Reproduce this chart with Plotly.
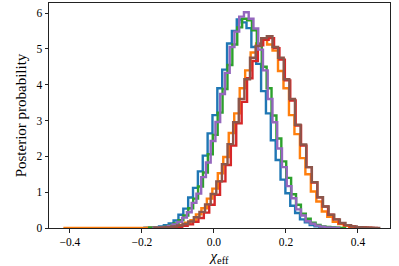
import numpy as np
import plotly.graph_objects as go

# Series: first bin edge, bin width, densities
blue_start, blue_width = -0.193, 0.0135
blue_vals = [0.006, 0.012, 0.02, 0.04, 0.075, 0.13, 0.21, 0.37, 0.54, 0.85, 1.12, 1.58, 2.02, 2.64, 3.15, 3.9, 4.42, 5.15, 5.5, 5.82,
             5.74, 5.58, 5.05, 4.58, 3.82, 3.2, 2.45, 1.9, 1.35, 0.97, 0.62, 0.42, 0.24, 0.16, 0.085, 0.05, 0.025, 0.013, 0.006, 0.003]

orange_start, orange_width = -0.4148, 0.0152
orange_vals = [0.001, 0.001, 0.001, 0.001, 0.001, 0.002, 0.001, 0.002, 0.002, 0.002, 0.003, 0.003, 0.003, 0.004, 0.004, 0.005, 0.006,
               0.008, 0.016, 0.027, 0.052, 0.083, 0.145, 0.22, 0.38, 0.55, 0.82, 1.1, 1.53, 1.98, 2.65, 3.2, 3.9, 4.4, 4.9, 5.15, 5.3,
               5.12, 4.95, 4.38, 3.9, 3.15, 2.62, 1.95, 1.5, 1.02, 0.74, 0.46, 0.31, 0.17, 0.11, 0.058, 0.033, 0.016, 0.008, 0.004]

green_start, green_width = -0.18, 0.0136
green_vals = [0.005, 0.011, 0.02, 0.038, 0.07, 0.125, 0.22, 0.35, 0.55, 0.82, 1.16, 1.55, 2.06, 2.6, 3.22, 3.88, 4.55, 5.12, 5.6, 5.84,
              5.8, 5.52, 5.14, 4.5, 3.9, 3.14, 2.5, 1.86, 1.4, 0.94, 0.65, 0.4, 0.26, 0.15, 0.088, 0.046, 0.026, 0.012, 0.006, 0.003]

red_start, red_width = -0.148, 0.015
red_vals = [0.006, 0.011, 0.02, 0.036, 0.06, 0.1, 0.17, 0.28, 0.43, 0.65, 0.93, 1.3, 1.76, 2.3, 2.92, 3.52, 4.18, 4.66, 5.1, 5.25,
            5.3, 5.02, 4.7, 4.12, 3.56, 2.86, 2.3, 1.7, 1.27, 0.86, 0.6, 0.37, 0.24, 0.13, 0.08, 0.045, 0.022, 0.012, 0.006, 0.003]

purple_start, purple_width = -0.1674, 0.0132
purple_vals = [0.008, 0.015, 0.03, 0.057, 0.1, 0.17, 0.29, 0.44, 0.7, 0.96, 1.42, 1.83, 2.43, 2.96, 3.74, 4.33, 5.05, 5.48, 5.9, 6.02,
               5.84, 5.57, 4.98, 4.4, 3.6, 2.95, 2.22, 1.7, 1.17, 0.83, 0.52, 0.35, 0.19, 0.12, 0.065, 0.037, 0.018, 0.009, 0.004]

brown_start, brown_width = -0.165, 0.0156
brown_vals = [0.006, 0.012, 0.022, 0.04, 0.068, 0.11, 0.18, 0.3, 0.45, 0.66, 0.95, 1.3, 1.78, 2.34, 2.95, 3.6, 4.15, 4.75, 5.08, 5.3,
              5.35, 5.05, 4.75, 4.15, 3.6, 2.88, 2.33, 1.7, 1.28, 0.86, 0.6, 0.37, 0.24, 0.14, 0.08, 0.044, 0.024, 0.012, 0.006, 0.003]

x_ticks = [-0.4, -0.2, 0.0, 0.2, 0.4]
y_ticks = [0, 1, 2, 3, 4, 5, 6]

series = [
    ("#1f77b4", blue_start, blue_width, blue_vals),
    ("#ff7f0e", orange_start, orange_width, orange_vals),
    ("#2ca02c", green_start, green_width, green_vals),
    ("#d62728", red_start, red_width, red_vals),
    ("#9467bd", purple_start, purple_width, purple_vals),
    ("#8c564b", brown_start, brown_width, brown_vals),
]

fig = go.Figure()
for color, start, width, vals in series:
    n = len(vals)
    edges = start + width * np.arange(n + 1)
    xs = [edges[0]] + list(edges[:n]) + [edges[n]]
    ys = [0] + list(vals) + [0]
    fig.add_trace(go.Scatter(x=xs, y=ys, mode="lines", line=dict(color=color, width=2.4, shape="hv"),
                             showlegend=False, hoverinfo="skip"))

serif = "Liberation Serif"
fig.update_layout(
    width=399, height=266,
    margin=dict(l=49, r=9, t=3, b=38),
    paper_bgcolor="white", plot_bgcolor="white",
    font=dict(family=serif, size=11, color="black"),
    xaxis=dict(range=[-0.458, 0.489], tickvals=x_ticks, tickformat=".1f",
               showgrid=False, zeroline=False, showline=True, mirror=True,
               linecolor="#222", linewidth=1, ticks="outside", ticklen=3.5, tickcolor="#222",
               tickfont=dict(family=serif, size=11.5),
               title=dict(text="<i>χ</i><sub>eff</sub>", font=dict(family=serif, size=15), standoff=4)),
    yaxis=dict(range=[0, 6.28], tickvals=y_ticks,
               showgrid=False, zeroline=False, showline=True, mirror=True,
               linecolor="#222", linewidth=1, ticks="outside", ticklen=3.5, tickcolor="#222",
               tickfont=dict(family=serif, size=11.5),
               title=dict(text="Posterior probability", font=dict(family=serif, size=15), standoff=6)),
)
fig.write_html("out.html", config={"displayModeBar": False, "staticPlot": True},
               post_script="document.body.style.margin='0';document.body.style.overflow='hidden';")
